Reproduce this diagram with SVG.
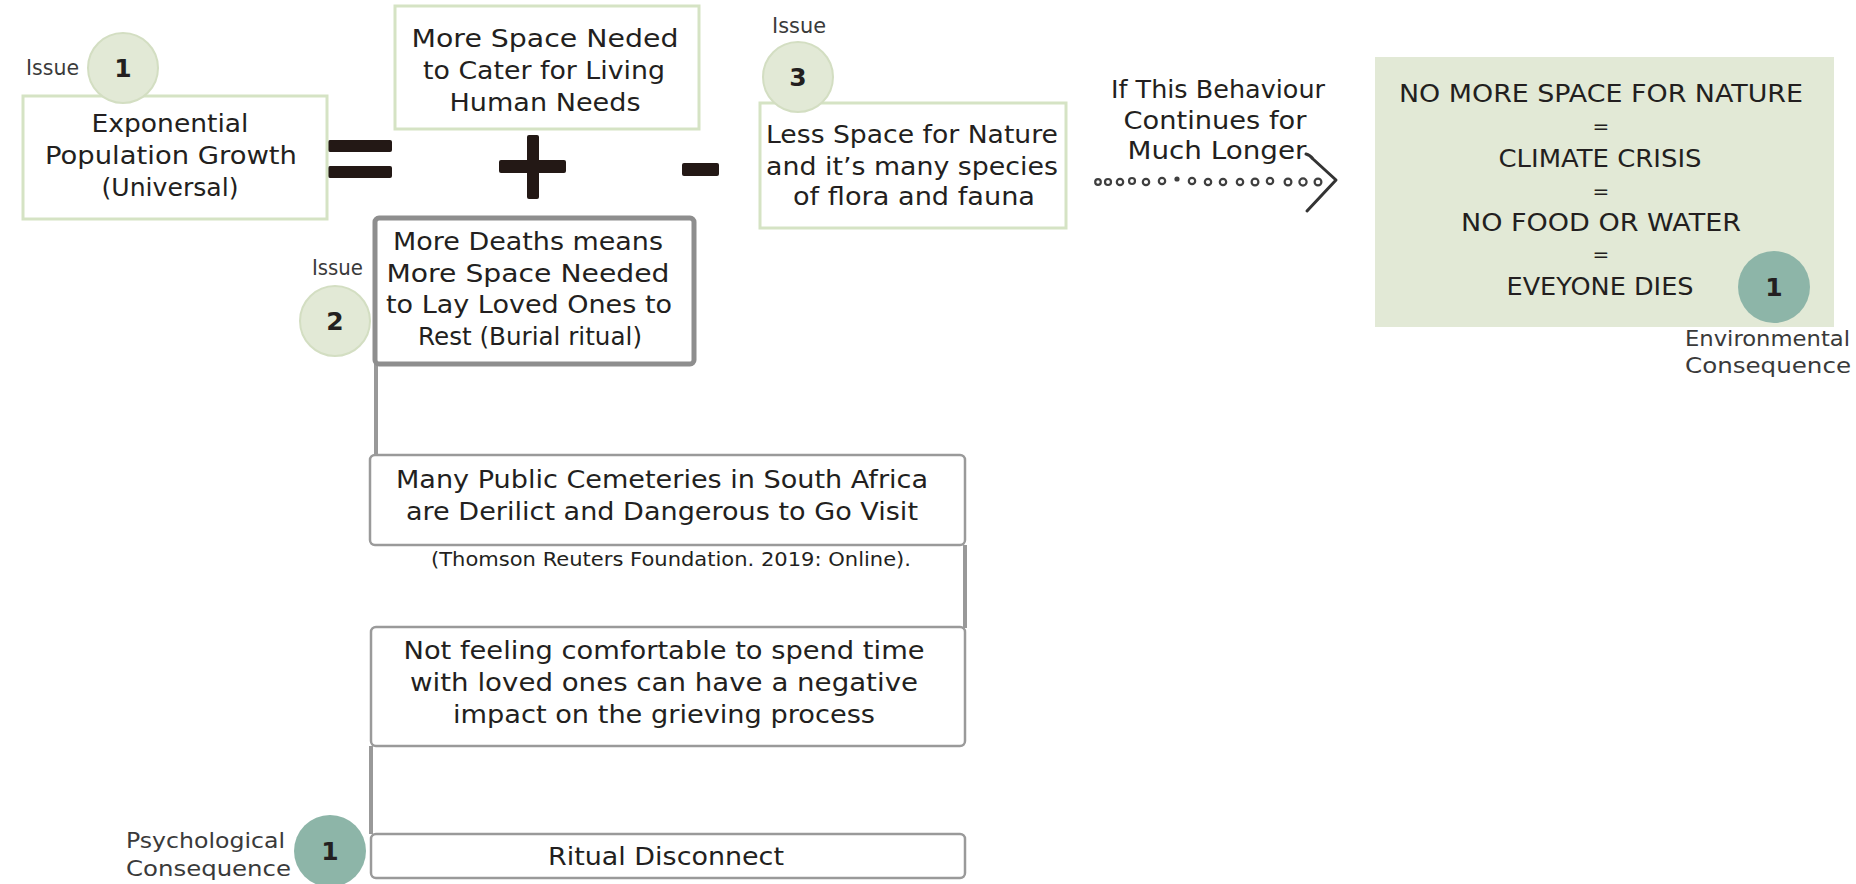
<svg xmlns="http://www.w3.org/2000/svg" width="1856" height="884" viewBox="0 0 1856 884">
  <style>
    .t { font-family: "DejaVu Sans", "Liberation Sans", sans-serif; fill: #231f20; text-anchor: middle; }
    .box { font-size: 25px; }
    .small { font-size: 20px; }
    .lbl { font-family: "DejaVu Sans", "Liberation Sans", sans-serif; fill: #3a3a3a; font-size: 21px; }
    .num { font-family: "DejaVu Sans", "Liberation Sans", sans-serif; font-weight: bold; font-size: 25px; fill: #231f20; text-anchor: middle; }
    .greenbox { fill: #ffffff; stroke: #d5e3c4; stroke-width: 3; }
    .greybox { fill: #ffffff; stroke: #9a9a9a; stroke-width: 2.5; }
    .issue { fill: #e2e9d6; stroke: #d3dec2; stroke-width: 2; }
    .conseq { fill: #8db5a8; }
    .op { fill: #231815; }
    .link { stroke: #999999; stroke-width: 4; fill: none; }
    .dot { fill: none; stroke: #3f3f3f; stroke-width: 2.2; }
  </style>

  <!-- connectors between the burial chain of boxes -->
  <g id="connectors">
    <line class="link" x1="376" y1="364" x2="376" y2="456"/>
    <line class="link" x1="965" y1="545" x2="965" y2="628"/>
    <line class="link" x1="371" y1="746" x2="371" y2="834"/>
  </g>

  <!-- operators between the top boxes -->
  <g id="operators">
    <rect class="op" x="328" y="140" width="64" height="12" rx="2"/>
    <rect class="op" x="328" y="166" width="64" height="12" rx="2"/>
    <rect class="op" x="527" y="135" width="12" height="64" rx="2"/>
    <rect class="op" x="499" y="160" width="67" height="13" rx="2"/>
    <rect class="op" x="682" y="163" width="37" height="13" rx="2"/>
  </g>

  <g id="node-population">
    <rect class="greenbox" x="23" y="96" width="304" height="123"/>
    <text class="t box" x="170" y="132" textLength="157" lengthAdjust="spacingAndGlyphs">Exponential</text>
    <text class="t box" x="171" y="164" textLength="252" lengthAdjust="spacingAndGlyphs">Population Growth</text>
    <text class="t box" x="170" y="196" textLength="137" lengthAdjust="spacingAndGlyphs">(Universal)</text>
    <text class="lbl" x="26" y="75" textLength="53" lengthAdjust="spacingAndGlyphs">Issue</text>
    <circle class="issue" cx="123" cy="68" r="35"/>
    <text class="num" x="123" y="77">1</text>
  </g>

  <g id="node-living-space">
    <rect class="greenbox" x="395" y="6" width="304" height="123"/>
    <text class="t box" x="545" y="47" textLength="267" lengthAdjust="spacingAndGlyphs">More Space Neded</text>
    <text class="t box" x="544" y="79" textLength="242" lengthAdjust="spacingAndGlyphs">to Cater for Living</text>
    <text class="t box" x="545" y="111" textLength="191" lengthAdjust="spacingAndGlyphs">Human Needs</text>
  </g>

  <g id="node-nature">
    <rect class="greenbox" x="760" y="103" width="306" height="125"/>
    <text class="t box" x="912" y="143" textLength="292" lengthAdjust="spacingAndGlyphs">Less Space for Nature</text>
    <text class="t box" x="912" y="175" textLength="292" lengthAdjust="spacingAndGlyphs">and it’s many species</text>
    <text class="t box" x="914" y="205" textLength="242" lengthAdjust="spacingAndGlyphs">of flora and fauna</text>
    <text class="lbl" x="772" y="33" textLength="54" lengthAdjust="spacingAndGlyphs">Issue</text>
    <circle class="issue" cx="798" cy="77" r="35"/>
    <text class="num" x="798" y="86">3</text>
  </g>

  <g id="node-continues">
    <text class="t box" x="1218" y="98" textLength="214" lengthAdjust="spacingAndGlyphs">If This Behaviour</text>
    <text class="t box" x="1215" y="129" textLength="183" lengthAdjust="spacingAndGlyphs">Continues for</text>
    <text class="t box" x="1217" y="159" textLength="179" lengthAdjust="spacingAndGlyphs">Much Longer</text>
  </g>

  <!-- hand-drawn dotted arrow -->
  <g id="dotted-arrow">
    <circle class="dot" cx="1098" cy="182" r="2.8"/>
    <circle class="dot" cx="1108" cy="182" r="3"/>
    <circle class="dot" cx="1120" cy="182" r="3.2"/>
    <circle class="dot" cx="1132" cy="181" r="3"/>
    <circle class="dot" cx="1146" cy="182" r="3.2"/>
    <circle class="dot" cx="1162" cy="181" r="3.2"/>
    <circle cx="1177" cy="179" r="2.6" fill="#3f3f3f"/>
    <circle class="dot" cx="1192" cy="181" r="3.2"/>
    <circle class="dot" cx="1208" cy="182" r="3.2"/>
    <circle class="dot" cx="1223" cy="182" r="3.2"/>
    <circle class="dot" cx="1240" cy="182" r="3.2"/>
    <circle class="dot" cx="1255" cy="182" r="3.4"/>
    <circle class="dot" cx="1270" cy="181" r="3.2"/>
    <circle class="dot" cx="1288" cy="182" r="3.4"/>
    <circle class="dot" cx="1303" cy="182" r="3.6"/>
    <circle class="dot" cx="1318" cy="182" r="3.4"/>
    <path d="M1306,154 Q1310,155 1313,159 L1336,180 L1307,211" fill="none" stroke="#333333" stroke-width="3" stroke-linecap="round" stroke-linejoin="round"/>
  </g>

  <g id="node-outcome">
    <rect x="1375" y="57" width="459" height="270" fill="#e2e9d6"/>
    <text class="t box" x="1601" y="102" textLength="404" lengthAdjust="spacingAndGlyphs">NO MORE SPACE FOR NATURE</text>
    <text class="t small" x="1601" y="133">=</text>
    <text class="t box" x="1600" y="167" textLength="203" lengthAdjust="spacingAndGlyphs">CLIMATE CRISIS</text>
    <text class="t small" x="1601" y="198">=</text>
    <text class="t box" x="1601" y="231" textLength="280" lengthAdjust="spacingAndGlyphs">NO FOOD OR WATER</text>
    <text class="t small" x="1601" y="261">=</text>
    <text class="t box" x="1600" y="295" textLength="187" lengthAdjust="spacingAndGlyphs">EVEYONE DIES</text>
    <circle class="conseq" cx="1774" cy="287" r="36"/>
    <text class="num" x="1774" y="296">1</text>
    <text class="lbl" x="1685" y="346" textLength="165" lengthAdjust="spacingAndGlyphs">Environmental</text>
    <text class="lbl" x="1685" y="373" textLength="166" lengthAdjust="spacingAndGlyphs">Consequence</text>
  </g>

  <g id="node-burial">
    <rect x="375" y="218" width="319" height="146" rx="4" fill="#ffffff" stroke="#8e8e8e" stroke-width="5"/>
    <text class="t box" x="528" y="250" textLength="270" lengthAdjust="spacingAndGlyphs">More Deaths means</text>
    <text class="t box" x="528" y="282" textLength="283" lengthAdjust="spacingAndGlyphs">More Space Needed</text>
    <text class="t box" x="529" y="313" textLength="286" lengthAdjust="spacingAndGlyphs">to Lay Loved Ones to</text>
    <text class="t box" x="530" y="345" textLength="224" lengthAdjust="spacingAndGlyphs">Rest (Burial ritual)</text>
    <text class="lbl" x="312" y="275" textLength="51" lengthAdjust="spacingAndGlyphs">Issue</text>
    <circle class="issue" cx="335" cy="321" r="35"/>
    <text class="num" x="335" y="330">2</text>
  </g>

  <g id="node-cemeteries">
    <rect class="greybox" x="370" y="455" width="595" height="90" rx="5"/>
    <text class="t box" x="662" y="488" textLength="532" lengthAdjust="spacingAndGlyphs">Many Public Cemeteries in South Africa</text>
    <text class="t box" x="662" y="520" textLength="512" lengthAdjust="spacingAndGlyphs">are Derilict and Dangerous to Go Visit</text>
    <text class="t small" x="671" y="566" textLength="480" lengthAdjust="spacingAndGlyphs">(Thomson Reuters Foundation. 2019: Online).</text>
  </g>

  <g id="node-grieving">
    <rect class="greybox" x="371" y="627" width="594" height="119" rx="5"/>
    <text class="t box" x="664" y="659" textLength="521" lengthAdjust="spacingAndGlyphs">Not feeling comfortable to spend time</text>
    <text class="t box" x="664" y="691" textLength="508" lengthAdjust="spacingAndGlyphs">with loved ones can have a negative</text>
    <text class="t box" x="664" y="723" textLength="422" lengthAdjust="spacingAndGlyphs">impact on the grieving process</text>
  </g>

  <g id="node-ritual">
    <rect class="greybox" x="371" y="834" width="594" height="44" rx="5"/>
    <text class="t box" x="666" y="865" textLength="236" lengthAdjust="spacingAndGlyphs">Ritual Disconnect</text>
    <circle class="conseq" cx="330" cy="851" r="36"/>
    <text class="num" x="330" y="860">1</text>
    <text class="lbl" x="126" y="848" textLength="159" lengthAdjust="spacingAndGlyphs">Psychological</text>
    <text class="lbl" x="126" y="876" textLength="165" lengthAdjust="spacingAndGlyphs">Consequence</text>
  </g>
</svg>
